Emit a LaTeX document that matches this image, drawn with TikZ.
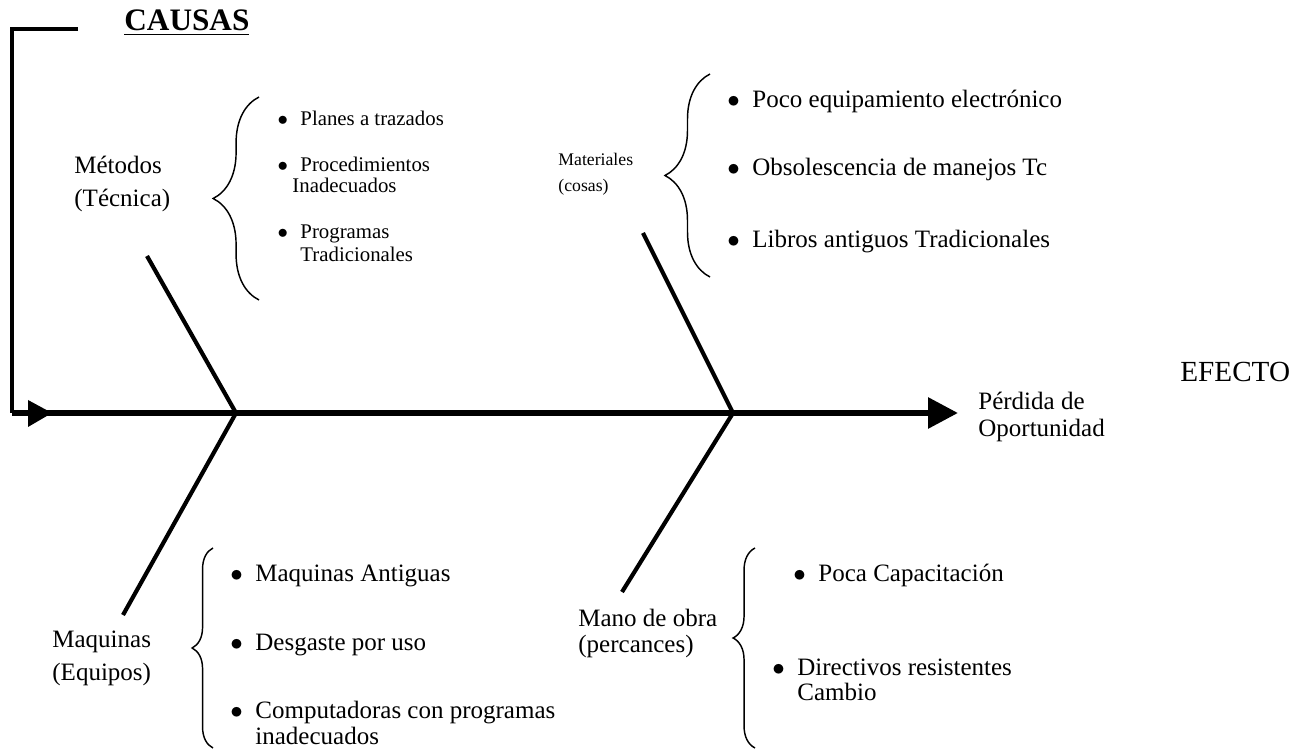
\documentclass[tikz,border=0pt]{standalone}
\usepackage{fontspec}
\setmainfont{Liberation Serif}
\usetikzlibrary{arrows.meta,decorations.pathreplacing,positioning}
\tikzset{
  bone/.style={line width=2pt},
  spine/.style={line width=2.9pt},
  brc/.style={decorate, line width=0.7pt},
  lbl/.style={anchor=base west, inner sep=0pt, font=\fontsize{12}{14}\selectfont},
  sml/.style={lbl, font=\fontsize{10}{12}\selectfont},
  matl/.style={lbl, font=\fontsize{8.5}{10}\selectfont},
  big/.style={lbl, font=\fontsize{14}{16}\selectfont}
}
\newcommand{\bul}{\llap{$\bullet$\hspace{6pt}}}

\begin{document}
\begin{tikzpicture}[x=0.48pt, y=-0.48pt]
  \useasboundingbox (0,0) rectangle (1304,750);
  % frame and spine
  \coordinate (top) at (78,29);
  \coordinate (corner) at (12,413);
  \coordinate (head) at (958,413);
  \coordinate (j1) at (236,413);
  \coordinate (j2) at (733,413);
  \draw[bone] (top) -| (corner);
  \draw[spine, -{Triangle[length=14.4pt,width=14.4pt]}] (corner) -- (head);
  \fill (28,400) -- (52,413) -- (28,427) -- cycle;
  % bones
  \coordinate (met) at (147,256);
  \coordinate (mat) at (643,233);
  \coordinate (maq) at (123,615);
  \coordinate (man) at (622,592);
  \draw[bone] (met) -- (j1) -- (maq);
  \draw[bone] (mat) -- (j2) -- (man);
  % braces
  \draw[brc, decoration={brace, amplitude=22pt}] (259,300) -- (259,97);
  \draw[brc, decoration={brace, amplitude=21.6pt}] (710,277) -- (710,74);
  \draw[brc, decoration={brace, amplitude=10pt}] (213,748) -- (213,548);
  \draw[brc, decoration={brace, amplitude=10.5pt, aspect=0.55}] (755,748) -- (755,548);

  \node[lbl, font=\fontsize{15}{17}\selectfont\bfseries] (causas) at (124,31) {\underline{CAUSAS}};
  \node[big] (efecto) at (1180,382) {EFECTO};
  \node[lbl] (perd) at (978,410) {Pérdida de};
  \node[lbl] (oport) at (978,437) {Oportunidad};

  % Metodos
  \node[lbl] (metA) at (74,174) {Métodos};
  \node[lbl] (metB) at (74,207) {(Técnica)};
  \node[sml] (m1) at (300,126) {\bul Planes a trazados};
  \node[sml] (m2) at (300,172) {\bul Procedimientos};
  \node[sml] (m2b) at (292,193) {Inadecuados};
  \node[sml] (m3) at (300,239) {\bul Programas};
  \node[sml] (m3b) at (300,262) {Tradicionales};

  % Materiales
  \node[matl] (matA) at (558,166) {Materiales};
  \node[matl] (matB) at (558,192) {(cosas)};
  \node[lbl] (t1) at (752,108) {\bul Poco equipamiento electrónico};
  \node[lbl] (t2) at (752,176) {\bul Obsolescencia de manejos Tc};
  \node[lbl] (t3) at (752,248) {\bul Libros antiguos Tradicionales};

  % Maquinas
  \node[lbl] (maqA) at (52,648) {Maquinas};
  \node[lbl] (maqB) at (52,680) {(Equipos)};
  \node[lbl] (q1) at (255,582) {\bul Maquinas Antiguas};
  \node[lbl] (q2) at (255,650) {\bul Desgaste por uso};
  \node[lbl] (q3) at (255,718) {\bul Computadoras con programas};
  \node[lbl] (q3b) at (255,745) {inadecuados};

  % Mano de obra
  \node[lbl] (manA) at (578,626) {Mano de obra};
  \node[lbl] (manB) at (578,653) {(percances)};
  \node[lbl] (o1) at (818,582) {\bul Poca Capacitación};
  \node[lbl] (o2) at (797,675) {\bul Directivos resistentes};
  \node[lbl] (o2b) at (797,701) {Cambio};
\end{tikzpicture}
\end{document}
